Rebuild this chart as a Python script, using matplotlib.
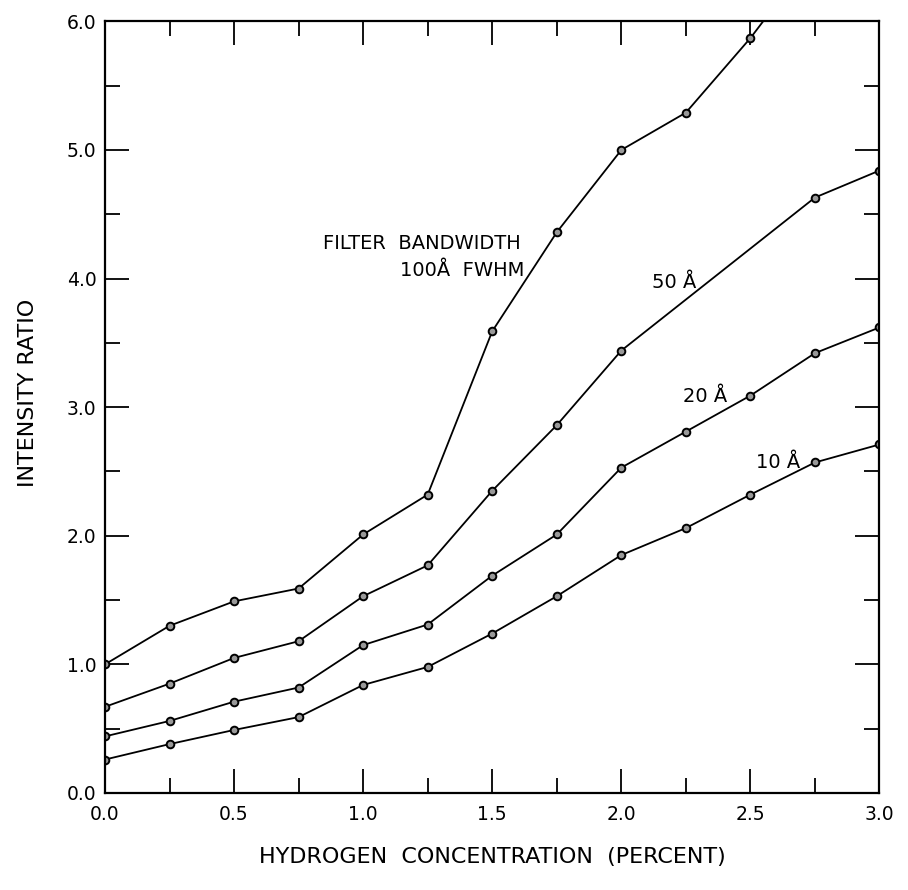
import matplotlib.pyplot as plt
from matplotlib.ticker import MultipleLocator, FormatStrFormatter

# hydrogen concentration (percent)
conc = [0.0, 0.25, 0.5, 0.75, 1.0, 1.25, 1.5, 1.75, 2.0, 2.25, 2.5, 2.75, 3.0]

# intensity ratio per filter bandwidth
bw100 = [1.00, 1.30, 1.49, 1.59, 2.01, 2.32, 3.59, 4.36, 5.00, 5.29, 5.87, 6.53]
conc50 = [0.0, 0.25, 0.5, 0.75, 1.0, 1.25, 1.5, 1.75, 2.0, 2.75, 3.0]
bw50 = [0.67, 0.85, 1.05, 1.18, 1.53, 1.77, 2.35, 2.86, 3.44, 4.63, 4.84]
bw20 = [0.44, 0.56, 0.71, 0.82, 1.15, 1.31, 1.69, 2.01, 2.53, 2.81, 3.09, 3.42, 3.62]
bw10 = [0.26, 0.38, 0.49, 0.59, 0.84, 0.98, 1.24, 1.53, 1.85, 2.06, 2.32, 2.57, 2.71]

fig = plt.figure(figsize=(9.08, 8.90), dpi=100)
ax = fig.add_axes([0.1156, 0.109, 0.853, 0.867])

style = dict(color='black', lw=1.3, marker='o', ms=5.5, mfc='#999999',
             mec='black', mew=1.4)
ax.plot(conc[:len(bw100)], bw100, **style)
ax.plot(conc50, bw50, **style)
ax.plot(conc, bw20, **style)
ax.plot(conc, bw10, **style)

ax.set_xlim(0, 3.0)
ax.set_ylim(0, 6.0)
ax.xaxis.set_major_locator(MultipleLocator(0.5))
ax.xaxis.set_minor_locator(MultipleLocator(0.25))
ax.yaxis.set_major_locator(MultipleLocator(1.0))
ax.yaxis.set_minor_locator(MultipleLocator(0.5))
ax.xaxis.set_major_formatter(FormatStrFormatter('%.1f'))
ax.yaxis.set_major_formatter(FormatStrFormatter('%.1f'))
ax.tick_params(which='both', direction='in', top=True, right=True, width=1.3)
ax.tick_params(which='major', length=17, labelsize=13.5)
ax.tick_params(which='minor', length=11)
ax.tick_params(axis='x', which='major', pad=9)
ax.tick_params(axis='y', which='major', pad=6)
for s in ax.spines.values():
    s.set_linewidth(1.6)

ax.set_xlabel('HYDROGEN  CONCENTRATION  (PERCENT)', fontsize=16, labelpad=16)
ax.set_ylabel('INTENSITY RATIO', fontsize=16)
ax.yaxis.set_label_coords(-0.086, 0.518)

ax.text(0.845, 4.27, 'FILTER  BANDWIDTH', fontsize=14, ha='left', va='center')
ax.text(1.624, 4.06, '100Å  FWHM', fontsize=14, ha='right', va='center')
ax.text(2.12, 3.97, '50 Å', fontsize=14, ha='left', va='center')
ax.text(2.24, 3.08, '20 Å', fontsize=14, ha='left', va='center')
ax.text(2.52, 2.57, '10 Å', fontsize=14, ha='left', va='center')

fig.savefig('out.png', dpi=100)
